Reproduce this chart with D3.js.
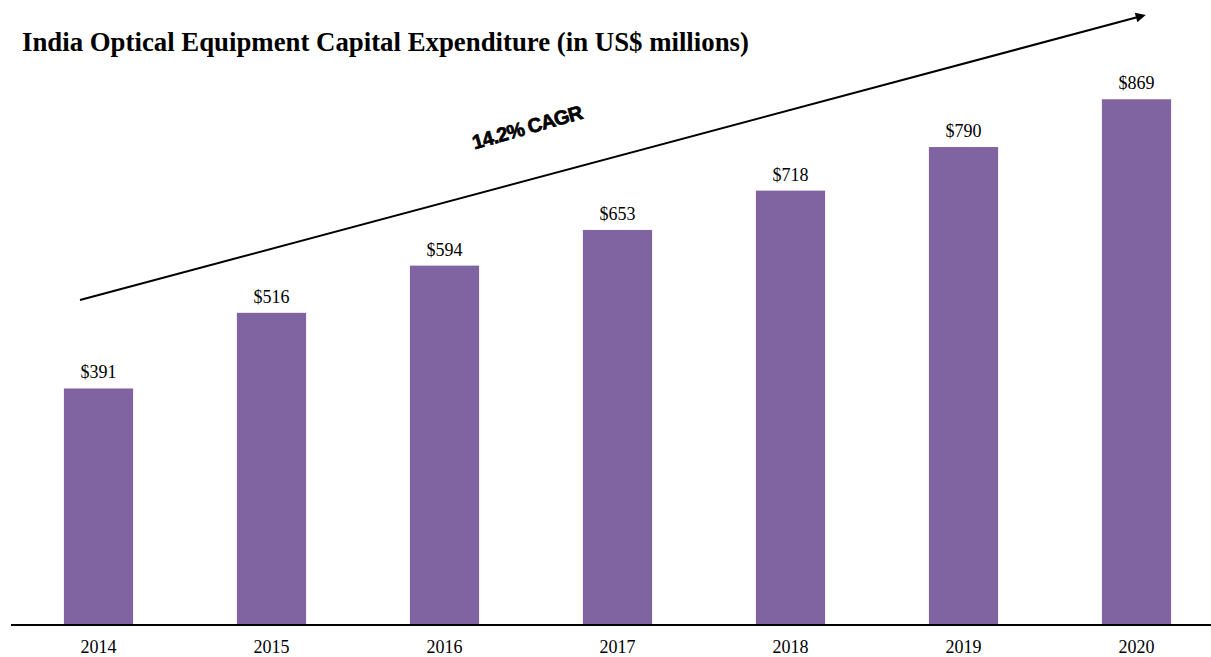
<!DOCTYPE html>
<html>
<head>
<meta charset="utf-8">
<script src="https://cdn.jsdelivr.net/npm/d3@7/dist/d3.min.js"></script>
<style>
  html, body { margin: 0; padding: 0; background: #fff; }
  svg { display: block; }
</style>
</head>
<body>
<svg id="chart" width="1211" height="657"></svg>
<script>
const years = ["2014", "2015", "2016", "2017", "2018", "2019", "2020"];
const capex = [391, 516, 594, 653, 718, 790, 869];
const valueLabels = ["$391", "$516", "$594", "$653", "$718", "$790", "$869"];
const titleText = "India Optical Equipment Capital Expenditure (in US$ millions)";
const cagrText = "14.2% CAGR";

const svg = d3.select("#chart");
const baseY = 625;
const serif = "'Liberation Serif', 'Times New Roman', serif";

const x = d3.scaleBand().domain(years).range([12, 1223]).paddingInner(0.6).paddingOuter(0.3);
const y = d3.scaleLinear().domain([0, 1000]).range([baseY, 20]);

const data = years.map((yr, i) => ({ year: yr, value: capex[i], label: valueLabels[i] }));

// Title
svg.append("text")
  .attr("x", 22).attr("y", 51)
  .attr("font-family", serif)
  .attr("font-weight", "bold")
  .attr("font-size", 26.8)
  .attr("fill", "#000")
  .text(titleText);

// Bars
svg.append("g").selectAll("rect").data(data).join("rect")
  .attr("x", d => x(d.year))
  .attr("y", d => y(d.value))
  .attr("width", x.bandwidth())
  .attr("height", d => y(0) - y(d.value))
  .attr("fill", "#8064A2");

// Value labels
svg.append("g").selectAll("text").data(data).join("text")
  .attr("x", d => x(d.year) + x.bandwidth() / 2)
  .attr("y", d => y(d.value) - 10)
  .attr("text-anchor", "middle")
  .attr("font-family", serif)
  .attr("font-size", 18)
  .attr("fill", "#000")
  .text(d => d.label);

// Axis
const axis = d3.axisBottom(x).tickSize(0).tickPadding(15);
const gAxis = svg.append("g").attr("transform", `translate(0,${baseY})`).call(axis);
gAxis.select(".domain").remove();
gAxis.selectAll("text")
  .attr("font-family", serif)
  .attr("font-size", 18)
  .attr("fill", "#000");
svg.append("line")
  .attr("x1", 11).attr("x2", 1211)
  .attr("y1", baseY).attr("y2", baseY)
  .attr("stroke", "#000").attr("stroke-width", 2);

// CAGR arrow
const defs = svg.append("defs");
defs.append("marker")
  .attr("id", "arrow")
  .attr("viewBox", "0 0 10 10")
  .attr("refX", 2).attr("refY", 5)
  .attr("markerWidth", 7).attr("markerHeight", 5)
  .attr("orient", "auto")
  .attr("markerUnits", "strokeWidth")
  .append("path").attr("d", "M0,0 L10,5 L0,10 Z").attr("fill", "#000");

svg.append("line")
  .attr("x1", 80).attr("y1", 300)
  .attr("x2", 1138).attr("y2", 17)
  .attr("stroke", "#000").attr("stroke-width", 2)
  .attr("marker-end", "url(#arrow)");

svg.append("text")
  .attr("transform", "translate(529,134) rotate(-16)")
  .attr("text-anchor", "middle")
  .attr("font-family", "'Liberation Sans', Arial, sans-serif")
  .attr("font-weight", "bold")
  .attr("font-size", 20)
  .attr("letter-spacing", -0.8)
  .attr("fill", "#000")
  .attr("stroke", "#000").attr("stroke-width", 0.7)
  .text(cagrText);
</script>
</body>
</html>
